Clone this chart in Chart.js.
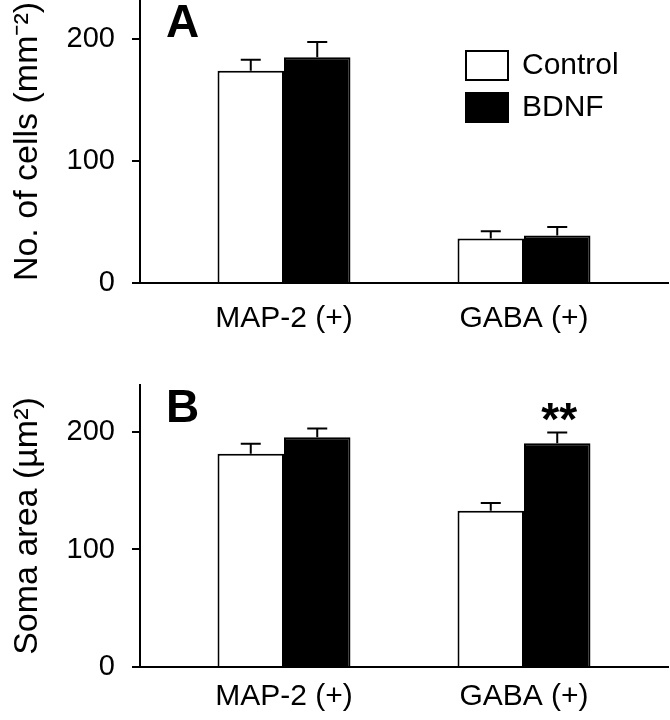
<!DOCTYPE html>
<html>
<head>
<meta charset="utf-8">
<script src="https://cdn.jsdelivr.net/npm/chart.js@4"></script>
<style>
  body { margin: 0; background: #fff; }
  #wrap { position: relative; width: 670px; height: 720px; }
  .panel { position: absolute; left: 0; width: 670px; }
  #panelA { top: 0; height: 340px; }
  #panelB { top: 340px; height: 380px; }
</style>
</head>
<body>
<div id="wrap">
  <div class="panel" id="panelA"><canvas id="chartA" width="670" height="340"></canvas></div>
  <div class="panel" id="panelB"><canvas id="chartB" width="670" height="380"></canvas></div>
</div>
<script>
// categories and values
const categories = ["MAP-2 (+)", "GABA (+)"];
const seriesNames = ["Control", "BDNF"];
const yTicks = [0, 100, 200];

// panel A: number of cells (mm^-2)
const cellsControl = [174, 36.5];
const cellsControlErr = [9, 6];
const cellsBdnf = [185, 39];
const cellsBdnfErr = [12.5, 7];

// panel B: soma area (um^2)
const somaControl = [181.5, 133];
const somaControlErr = [8.5, 6.5];
const somaBdnf = [195.5, 190.5];
const somaBdnfErr = [7.5, 9];
const somaBdnfMarks = ["", "**"];

Chart.defaults.font.family = '"Liberation Sans", Arial, Helvetica, sans-serif';
Chart.defaults.color = "#000";

// error bars, significance marks, panel letter and legend
const extras = {
  id: "extras",
  afterDatasetsDraw(chart, args, opts) {
    const ctx = chart.ctx;
    const yScale = chart.scales.y;
    ctx.save();
    ctx.strokeStyle = "#000";
    ctx.fillStyle = "#000";
    ctx.lineWidth = 2;
    chart.data.datasets.forEach((ds, di) => {
      const meta = chart.getDatasetMeta(di);
      meta.data.forEach((bar, i) => {
        const top = yScale.getPixelForValue(ds.data[i].y + ds.errors[i]);
        ctx.beginPath();
        ctx.moveTo(bar.x, bar.y);
        ctx.lineTo(bar.x, top);
        ctx.moveTo(bar.x - 10, top);
        ctx.lineTo(bar.x + 10, top);
        ctx.stroke();
        if (ds.marks && ds.marks[i]) {
          ctx.font = 'bold 46px "Liberation Sans", Arial, sans-serif';
          ctx.textAlign = "center";
          ctx.textBaseline = "alphabetic";
          ctx.fillText(ds.marks[i], bar.x + 2, top + 2);
        }
      });
    });

    // panel letter
    ctx.font = 'bold 46px "Liberation Sans", Arial, sans-serif';
    ctx.textAlign = "left";
    ctx.textBaseline = "alphabetic";
    ctx.fillText(opts.letter, opts.letterX, opts.letterY);

    // legend
    if (opts.legend) {
      chart.data.datasets.forEach((ds, di) => {
        const bx = 465, by = 50 + di * 42;
        ctx.fillStyle = ds.backgroundColor;
        ctx.fillRect(bx, by, 44, 31);
        ctx.strokeStyle = "#000";
        ctx.lineWidth = 2;
        ctx.strokeRect(bx + 1, by + 1, 42, 29);
        ctx.fillStyle = "#000";
        ctx.font = '30px "Liberation Sans", Arial, sans-serif';
        ctx.textBaseline = "middle";
        ctx.fillText(ds.label, 522, by + 16);
      });
    }
    ctx.restore();
  }
};

function makePanel(id, cfg) {
  new Chart(document.getElementById(id), {
    type: "bar",
    data: {
      datasets: [
        {
          label: seriesNames[0],
          data: categories.map((c, i) => ({ x: i, y: cfg.control[i] })),
          errors: cfg.controlErr,
          backgroundColor: "#fff",
          borderColor: "#000",
          borderWidth: 2
        },
        {
          label: seriesNames[1],
          data: categories.map((c, i) => ({ x: i, y: cfg.bdnf[i] })),
          errors: cfg.bdnfErr,
          marks: cfg.marks,
          backgroundColor: "#000",
          borderColor: "#000",
          borderWidth: 2
        }
      ]
    },
    options: {
      responsive: false,
      animation: false,
      events: [],
      layout: { padding: { top: cfg.top, right: 2, left: 0, bottom: 0 } },
      datasets: { bar: { categoryPercentage: 0.554, barPercentage: 1 } },
      plugins: {
        legend: { display: false },
        tooltip: { enabled: false },
        extras: { letter: cfg.letter, letterX: 166, letterY: cfg.letterY, legend: cfg.legend }
      },
      scales: {
        x: {
          type: "linear",
          offset: false,
          min: -0.6,
          max: 1.6,
          grid: { display: false },
          border: { display: true, color: "#000", width: 2 },
          afterBuildTicks: (s) => { s.ticks = categories.map((c, i) => ({ value: i })); },
          ticks: {
            callback: (v) => categories[v],
            font: { size: 30 },
            color: "#000",
            padding: cfg.xPad,
            maxRotation: 0,
            autoSkip: false
          },
          afterFit: (s) => { s.height = cfg.xHeight; s.paddingLeft = 0; s.paddingRight = 0; }
        },
        y: {
          min: 0,
          max: cfg.max,
          afterBuildTicks: (s) => { s.ticks = yTicks.map((v) => ({ value: v })); },
          ticks: { font: { size: 29 }, color: "#000", padding: 17 },
          grid: { drawOnChartArea: false, drawTicks: true, tickLength: 8, color: "#000", lineWidth: 2 },
          border: { display: true, color: "#000", width: 2 },
          title: {
            display: true,
            text: cfg.title,
            font: { size: 34 },
            color: "#000",
            padding: { top: 7, bottom: 0 }
          },
          afterFit: (s) => { s.width = 140; s.paddingTop = 0; s.paddingBottom = 0; }
        }
      }
    },
    plugins: [extras]
  });
}

makePanel("chartA", {
  control: cellsControl, controlErr: cellsControlErr,
  bdnf: cellsBdnf, bdnfErr: cellsBdnfErr, marks: null,
  max: 232, top: 0, xHeight: 57, xPad: 10,
  title: "No. of cells (mm\u207B\u00B2)",
  letter: "A", letterY: 37, legend: true
});

makePanel("chartB", {
  control: somaControl, controlErr: somaControlErr,
  bdnf: somaBdnf, bdnfErr: somaBdnfErr, marks: somaBdnfMarks,
  max: 240, top: 45, xHeight: 53, xPad: 4,
  title: "Soma area (\u00B5m\u00B2)",
  letter: "B", letterY: 82, legend: false
});
</script>
</body>
</html>
